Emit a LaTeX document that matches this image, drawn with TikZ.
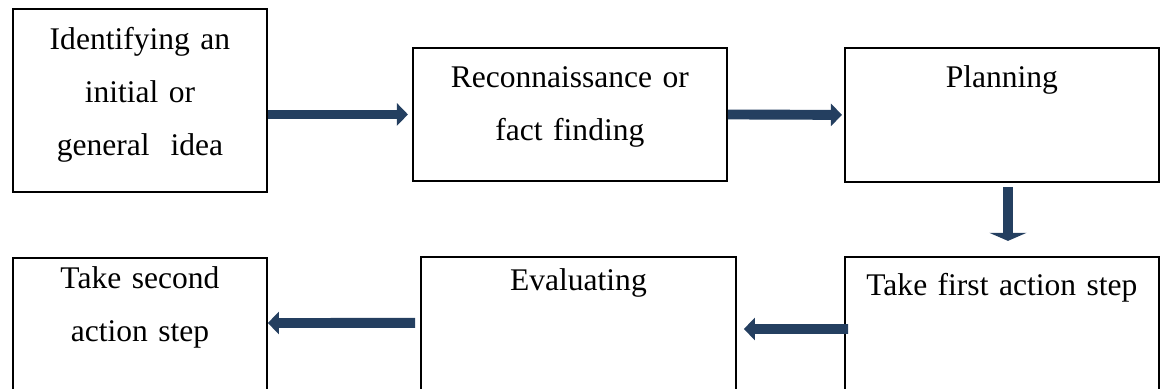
\documentclass[tikz,border=0pt]{standalone}
\usepackage{fontspec}
\setmainfont{Liberation Serif}
\usepackage{xcolor}
\usetikzlibrary{arrows.meta}
\definecolor{arrowblue}{RGB}{36,63,96}

\begin{document}
\begin{tikzpicture}[x=0.444pt, y=-0.444pt,
		stepbox/.style={draw, line width=0.8pt, inner sep=0pt, anchor=north west, align=center,
			font=\fontsize{14}{23.5}\selectfont},
		flow/.style={color=arrowblue, line width=4.4pt, -{Triangle[length=4.9pt, width=9.8pt]}},
		flowdown/.style={color=arrowblue, line width=4.4pt, -{Triangle[length=3.6pt, width=16.4pt]}}]
		\useasboundingbox (0,0) rectangle (1160,388);
		\clip (0,0) rectangle (1160,388);
		% top row
		\node[stepbox, text width=112.8pt, text height=18.2pt, text depth=63.1pt] (ident) at (12,8) {Identifying an\\initial or\\general~~idea};
		\node[stepbox, text width=139.4pt, text height=17.8pt, text depth=41.3pt] (recon) at (412,47) {Reconnaissance or\\fact finding};
		\node[stepbox, text width=139.4pt, text height=17.8pt, text depth=41.7pt] (plan) at (844,47) {Planning};
		% bottom row, cut off at the lower edge
		\node[stepbox, text width=139.4pt, text height=17.3pt, text depth=49.3pt] (first) at (844,256) {Take first action step};
		\node[stepbox, text width=139.9pt, text height=14.7pt, text depth=51.9pt] (eval) at (420,256) {Evaluating};
		\node[stepbox, text width=112.8pt, text height=13.8pt, text depth=52.8pt] (second) at (12,257) {Take second\\action step};
		% arrows
		\draw[flow] (ident.east |- recon.west) -- ([xshift=-1.8pt]recon.west);
		\draw[flow] (recon.east) -- ([xshift=-0.9pt]plan.west);
		\draw[flowdown] ([xshift=2.7pt,yshift=-1.8pt]plan.south) -- ([xshift=2.7pt,yshift=6.7pt]first.north);
		\draw[flow] ([xshift=1.8pt,yshift=1.3pt]first.west) -- ([xshift=3.1pt,yshift=1.3pt]eval.east);
		\draw[flow] ([xshift=-2.2pt,yshift=4pt]eval.west) -- ([yshift=4.4pt]second.east);
	\end{tikzpicture}
\end{document}
